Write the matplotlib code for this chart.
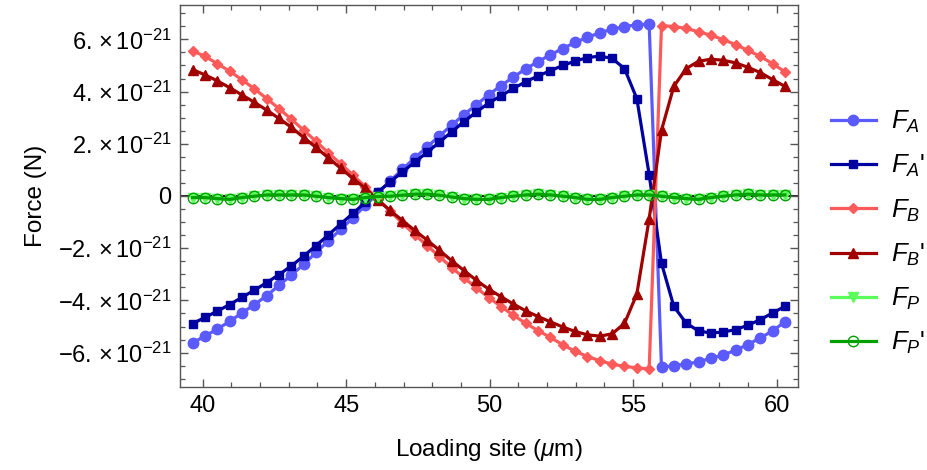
import matplotlib
matplotlib.use('Agg')
import matplotlib.pyplot as plt
from matplotlib.ticker import MultipleLocator, FuncFormatter

plt.rcParams['font.family'] = ['Liberation Sans', 'DejaVu Sans']
plt.rcParams['mathtext.fontset'] = 'custom'
plt.rcParams['mathtext.rm'] = 'Liberation Sans'
plt.rcParams['mathtext.it'] = 'Liberation Sans:italic'
plt.rcParams['mathtext.bf'] = 'Liberation Sans:bold'

# loading site (um)
site = [39.65, 40.08, 40.51, 40.94, 41.37, 41.80, 42.23, 42.66, 43.09, 43.52,
        43.95, 44.38, 44.81, 45.24, 45.67, 46.10, 46.53, 46.96, 47.39, 47.82,
        48.25, 48.68, 49.11, 49.54, 49.97, 50.40, 50.83, 51.26, 51.69, 52.12,
        52.55, 52.98, 53.41, 53.84, 54.27, 54.70, 55.13, 55.56, 55.99, 56.42,
        56.85, 57.28, 57.71, 58.14, 58.57, 59.00, 59.43, 59.86, 60.29]

# forces, in units of 1e-21 N
f_a = [-5.63, -5.36, -5.10, -4.80, -4.48, -4.16, -3.82, -3.42, -3.03, -2.62,
       -2.16, -1.72, -1.28, -0.83, -0.36, 0.10, 0.57, 1.02, 1.46, 1.88,
       2.30, 2.72, 3.12, 3.50, 3.88, 4.23, 4.56, 4.87, 5.15, 5.41,
       5.65, 5.88, 6.08, 6.25, 6.39, 6.49, 6.56, 6.58, -6.56, -6.50,
       -6.44, -6.35, -6.22, -6.09, -5.91, -5.69, -5.44, -5.17, -4.82]
f_a2 = [-4.89, -4.65, -4.41, -4.16, -3.88, -3.61, -3.32, -3.01, -2.68, -2.30,
        -1.90, -1.49, -1.07, -0.66, -0.24, 0.15, 0.54, 0.92, 1.30, 1.67,
        2.06, 2.46, 2.85, 3.22, 3.56, 3.84, 4.12, 4.38, 4.60, 4.80,
        5.00, 5.17, 5.30, 5.36, 5.27, 4.88, 3.73, 0.82, -2.58, -4.23,
        -4.87, -5.17, -5.25, -5.21, -5.12, -4.95, -4.74, -4.48, -4.23]
f_b = [5.56, 5.35, 5.07, 4.78, 4.45, 4.11, 3.73, 3.35, 2.94, 2.52,
       2.09, 1.65, 1.23, 0.80, 0.35, -0.11, -0.58, -1.04, -1.48, -1.90,
       -2.32, -2.74, -3.14, -3.52, -3.89, -4.24, -4.57, -4.88, -5.16, -5.42,
       -5.70, -5.95, -6.15, -6.31, -6.44, -6.53, -6.58, -6.63, 6.53, 6.49,
       6.42, 6.29, 6.16, 5.99, 5.80, 5.58, 5.35, 5.07, 4.76]
f_b2 = [4.84, 4.64, 4.41, 4.15, 3.87, 3.59, 3.29, 2.97, 2.63, 2.24,
        1.86, 1.46, 1.06, 0.67, 0.29, -0.15, -0.55, -0.94, -1.32, -1.69,
        -2.08, -2.48, -2.86, -3.23, -3.57, -3.86, -4.14, -4.40, -4.62, -4.82,
        -5.02, -5.19, -5.32, -5.37, -5.28, -4.88, -3.76, -0.88, 2.52, 4.20,
        4.88, 5.16, 5.24, 5.20, 5.10, 4.93, 4.73, 4.46, 4.20]
f_p = [-0.06, -0.06, -0.10, -0.13, -0.06, -0.01, 0.04, 0.04, 0.04, 0.04,
       -0.01, -0.06, -0.10, -0.13, -0.06, -0.02, -0.01, 0.03, 0.07, 0.07,
       0.03, -0.04, -0.10, -0.13, -0.13, -0.06, -0.01, 0.04, 0.07, 0.04,
       -0.01, -0.06, -0.13, -0.13, -0.06, -0.01, 0.04, 0.04, -0.01, -0.06,
       -0.10, -0.13, -0.06, -0.01, 0.04, 0.07, 0.04, 0.04, 0.04]
f_p2 = [-0.06, -0.06, -0.10, -0.13, -0.06, -0.01, 0.04, 0.04, 0.04, 0.04,
        -0.01, -0.06, -0.10, -0.13, -0.06, -0.02, -0.01, 0.03, 0.07, 0.07,
        0.03, -0.04, -0.10, -0.13, -0.13, -0.06, -0.01, 0.04, 0.07, 0.04,
        -0.01, -0.06, -0.13, -0.13, -0.06, -0.01, 0.04, 0.04, -0.01, -0.06,
        -0.10, -0.13, -0.06, -0.01, 0.04, 0.07, 0.04, 0.04, 0.04]

labels = [r'$F_A$', r"$F_A$'", r'$F_B$', r"$F_B$'", r'$F_P$', r"$F_P$'"]
colors = ['#5a5aff', '#0000a0', '#ff5a5a', '#a00000', '#5aff5a', '#00a000']

fig = plt.figure(figsize=(9.28, 4.70), dpi=100)
ax = fig.add_axes([0.194, 0.177, 0.666, 0.812])

ax.axhline(0, color='black', lw=1.2, zorder=1)

styles = [
    dict(marker='o', ms=7.5),
    dict(marker='s', ms=5.5),
    dict(marker='D', ms=5.5),
    dict(marker='^', ms=7),
    dict(marker='v', ms=7),
    dict(marker='o', ms=7.5, mfc='none', mew=1.0),
]
handles = []
for i, (y, lab, c, st) in enumerate(zip([f_a, f_a2, f_b, f_b2, f_p, f_p2], labels, colors, styles)):
    ln, = ax.plot(site, y, color=c, lw=2.3, zorder=2 + i, label=lab, **st)
    handles.append(ln)

ax.set_xlim(39.21, 60.75)
ax.set_ylim(-7.31, 7.31)
ax.xaxis.set_major_locator(MultipleLocator(5))
ax.xaxis.set_minor_locator(MultipleLocator(1))
ax.yaxis.set_major_locator(MultipleLocator(2))
ax.yaxis.set_minor_locator(MultipleLocator(0.5))


def sci(v, pos):
    if abs(v) < 1e-9:
        return '0'
    return r'$%s%d.\,{\times}\,10^{-21}$' % ('-' if v < 0 else '', abs(round(v)))


ax.yaxis.set_major_formatter(FuncFormatter(sci))
ax.tick_params(which='both', direction='in', top=True, right=True,
               color='#555555', labelsize=17, pad=6)
ax.tick_params(which='major', length=6, width=1)
ax.tick_params(which='minor', length=3.5, width=0.9)
for s in ax.spines.values():
    s.set_color('#555555')
    s.set_linewidth(1)

ax.set_xlabel(r'Loading site ($\mu$m)', fontsize=17.5, labelpad=14)
ax.set_ylabel('Force (N)', fontsize=17.5, labelpad=8)

fig.legend(handles, labels, loc='center left', bbox_to_anchor=(0.895, 0.505),
           frameon=False, fontsize=18.5, handlelength=1.75, handletextpad=0.6,
           labelspacing=0.7, borderpad=0, borderaxespad=0)

fig.savefig('out.png', dpi=100)
